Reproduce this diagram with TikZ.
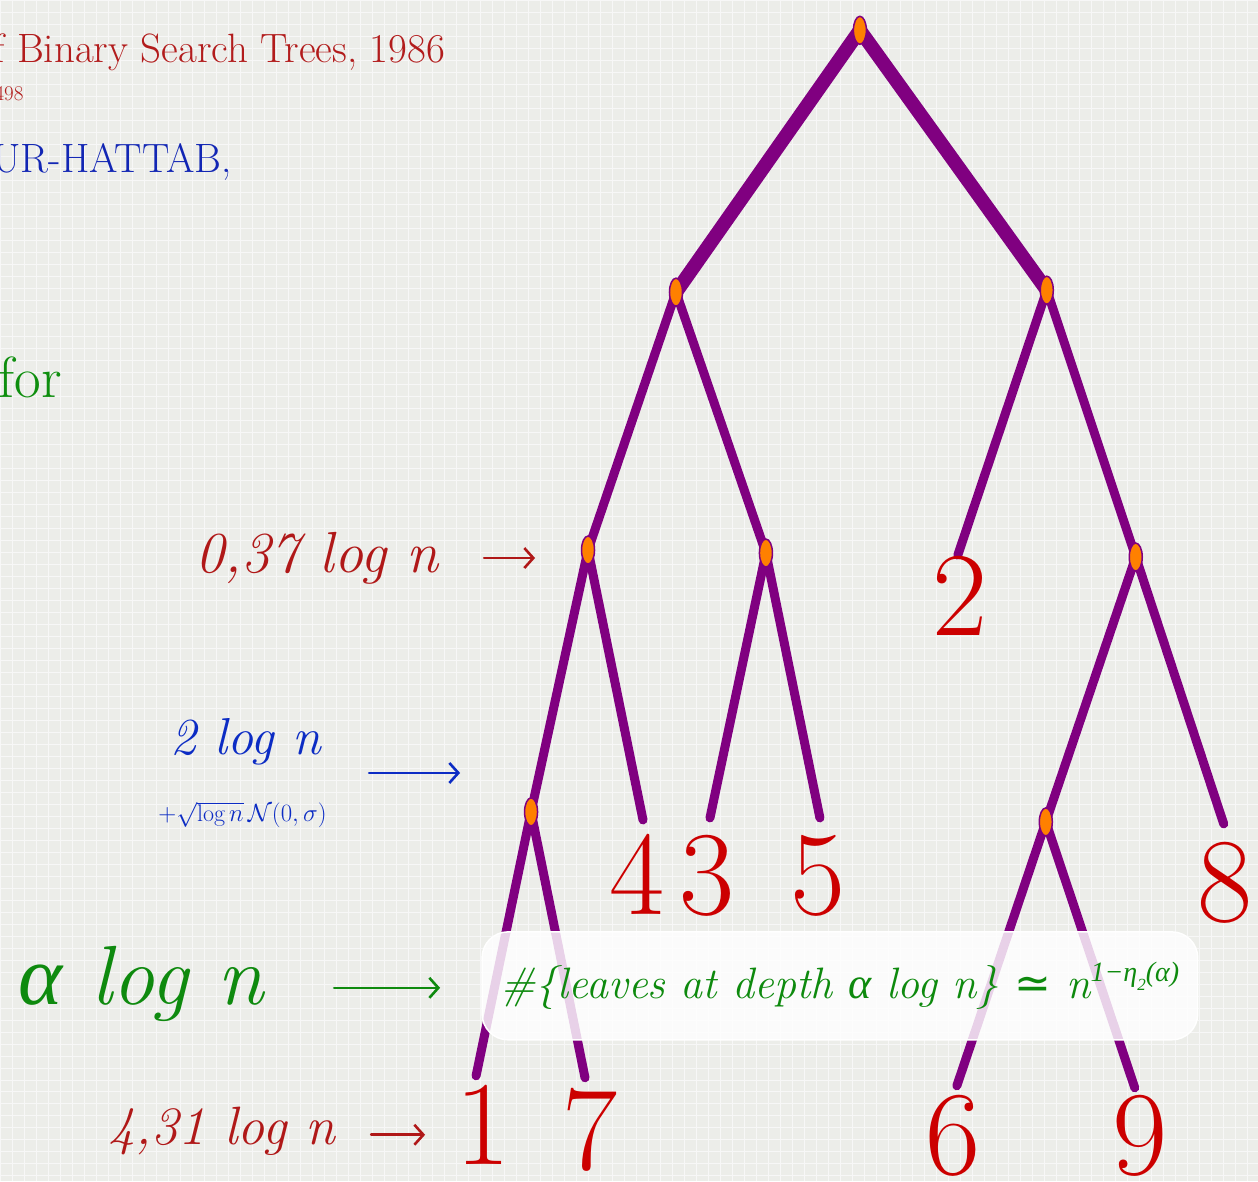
\documentclass[tikz,border=0pt]{standalone}
\usepackage{fontspec}
\usepackage{amsmath,amssymb}
\usetikzlibrary{arrows.meta,shapes.geometric}
\newfontfamily\greekfont{Liberation Serif}
\newfontfamily\relfont{DejaVu Sans}
\definecolor{slidebg}{HTML}{ECEDE9}
\definecolor{treepurple}{HTML}{800080}
\definecolor{nodeorange}{HTML}{FF8000}
\definecolor{leafred}{HTML}{CC0000}
\definecolor{titlered}{HTML}{B21C1C}
\definecolor{titleblue}{HTML}{1226B4}
\definecolor{titlegreen}{HTML}{0E8E0E}
\definecolor{penred}{HTML}{B01818}
\definecolor{penblue}{HTML}{0C2CC4}
\definecolor{pengreen}{HTML}{0E8A0E}
\pgfdeclarelayer{paper}
\pgfdeclarelayer{edges}
\pgfsetlayers{paper,edges,main}
\newcommand{\galpha}{{\greekfont\itshape α}}

\begin{document}
\begin{tikzpicture}[x=1pt,y=-1pt,
  trunk/.style={draw=treepurple,line width=14pt,line cap=round},
  branch/.style={draw=treepurple,line width=9pt,line cap=round},
  vertex/.style={ellipse,draw=treepurple,line width=1.5pt,fill=nodeorange,minimum width=13pt,minimum height=28pt,inner sep=0pt},
  leaf/.style={text=leafred,font=\fontsize{120}{120}\selectfont,inner sep=0pt},
  slide/.style={anchor=base west,inner sep=0pt},
  pen/.style={inner sep=0pt,font=\itshape},
  penflow/.style={-{Straight Barb[length=9pt,width=20pt,line width=2.6pt]},line width=2.6pt,line cap=round}]
  \begin{pgfonlayer}{paper}
    \fill[slidebg] (0,0) rectangle (1258,1181);
    \draw[black!3,line width=.6pt,step=12pt] (0,0) grid (1258,1181);
  \end{pgfonlayer}
  \useasboundingbox (0,0) rectangle (1258,1181);
  % slide text cut at the left edge
  \node[slide,text=titlered,font=\fontsize{41}{43}\selectfont] (title) at (-7,62) {f Binary Search Trees, 1986};
  \node[slide,text=titlered,font=\fontsize{21}{23}\selectfont] (pages) at (-6,100) {498};
  \node[slide,text=titleblue,font=\fontsize{41}{43}\selectfont] (authors) at (-8,172) {UR-HATTAB,};
  \node[slide,text=titlegreen,font=\fontsize{58}{60}\selectfont] (for) at (-2,397) {for};
  % tree vertices
  \node[vertex] (root) at (860,30) {};
  \node[vertex] (l) at (676,292) {};
  \node[vertex] (r) at (1047,290) {};
  \node[vertex] (ll) at (588,550) {};
  \node[vertex] (lr) at (766,553) {};
  \node[vertex] (rr) at (1136,557) {};
  \node[vertex] (lll) at (531,812) {};
  \node[vertex] (rrl) at (1046,822) {};
  % free ends of the leaf branches
  \coordinate (end2) at (958,555);
  \coordinate (end4) at (643,820);
  \coordinate (end3) at (710,818);
  \coordinate (end5) at (820,818);
  \coordinate (end8) at (1224,824);
  \coordinate (end1) at (476,1076);
  \coordinate (end7) at (585,1078);
  \coordinate (end6) at (957,1086);
  \coordinate (end9) at (1135,1088);
  \begin{pgfonlayer}{edges}
    \draw[trunk] (root.center) -- (l.center);
    \draw[trunk] (root.center) -- (r.center);
    \draw[branch] (l.center) -- (ll.center);
    \draw[branch] (l.center) -- (lr.center);
    \draw[branch] (r.center) -- (end2);
    \draw[branch] (r.center) -- (rr.center);
    \draw[branch] (ll.center) -- (lll.center);
    \draw[branch] (ll.center) -- (end4);
    \draw[branch] (lr.center) -- (end3);
    \draw[branch] (lr.center) -- (end5);
    \draw[branch] (rr.center) -- (rrl.center);
    \draw[branch] (rr.center) -- (end8);
    \draw[branch] (lll.center) -- (end1);
    \draw[branch] (lll.center) -- (end7);
    \draw[branch] (rrl.center) -- (end6);
    \draw[branch] (rrl.center) -- (end9);
  \end{pgfonlayer}
  % leaf keys
  \node[leaf,anchor=base] (key2) at (960,635) {2};
  \node[leaf,anchor=base] (key4) at (637,915) {4};
  \node[leaf,anchor=base] (key3) at (707,915) {3};
  \node[leaf,anchor=base] (key5) at (818,915) {5};
  \node[leaf,anchor=base] (key8) at (1225,922) {8};
  \node[leaf,anchor=base] (key1) at (483,1165) {1};
  \node[leaf,anchor=base] (key7) at (590,1170) {7};
  \node[leaf,anchor=base] (key6) at (953,1175) {6};
  \node[leaf,anchor=base] (key9) at (1140,1175) {9};
  % depth annotations
  \node[pen,text=penred,font=\fontsize{58}{60}\itshape,anchor=base west] (depthlow) at (195,572) {0,37 log n};
  \coordinate (tiplow) at (535,558);
  \draw[penflow,penred] (484,558) -- (tiplow);
  \node[pen,text=penblue,font=\fontsize{52}{54}\itshape,anchor=base west] (depthmid) at (170,755) {2 log n};
  \node[pen,text=penblue,font=\fontsize{24}{24}\selectfont,anchor=base west] (spread) at (158,822) {$+\sqrt{\log n}\,\mathcal{N}(0,\sigma)$};
  \coordinate (tipmid) at (460,773);
  \draw[penflow,penblue] (369,773) -- (tipmid);
  \node[pen,text=pengreen,font=\fontsize{84}{86}\itshape,anchor=base west] (depthalpha) at (18,1005) {\galpha{} log n};
  \coordinate (tipalpha) at (440,988);
  \draw[penflow,pengreen] (334,988) -- (tipalpha);
  \node[draw=white,line width=1.5pt,fill=white,fill opacity=.82,text opacity=1,rounded corners=26pt,minimum width=716pt,minimum height=108pt,inner sep=0pt,text=pengreen,font=\fontsize{44}{46}\itshape] (count) at (840,986)
    {\#\{leaves at depth \galpha{} log n\} {\relfont\upshape ≃} n\raisebox{.38em}{\fontsize{28}{28}\greekfont\itshape 1−η\raisebox{-.3em}{\fontsize{17}{17}\selectfont 2}(α)}};
  \node[pen,text=penred,font=\fontsize{54}{56}\itshape,anchor=base west] (depthhigh) at (108,1145) {4,31 log n};
  \coordinate (tiphigh) at (425,1135);
  \draw[penflow,penred] (371,1135) -- (tiphigh);
\end{tikzpicture}
\end{document}
